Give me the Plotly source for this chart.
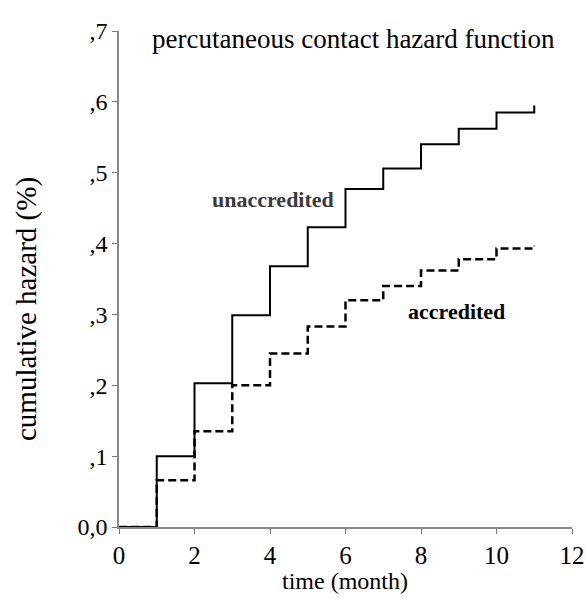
import plotly.graph_objects as go

months = [0, 1, 2, 3, 4, 5, 6, 7, 8, 9, 10, 11]
unaccredited = [0.0, 0.100, 0.203, 0.299, 0.368, 0.423, 0.477, 0.506, 0.540, 0.562, 0.585, 0.595]
accredited = [0.0, 0.066, 0.135, 0.200, 0.245, 0.283, 0.320, 0.340, 0.362, 0.378, 0.393, 0.397]
x_ticks = [0, 2, 4, 6, 8, 10, 12]
y_ticks = [0.0, 0.1, 0.2, 0.3, 0.4, 0.5, 0.6, 0.7]
y_tick_labels = ["0,0", ",1", ",2", ",3", ",4", ",5", ",6", ",7"]

SERIF = "Liberation Serif, Times New Roman, serif"

# plot area target: x 119..572, y 31..527 (page margin removed by post_script)
W, H = 585, 599
L, R, T, B = 119, 585 - 572, 31, 599 - 527
PW, PH = 572 - 119, 527 - 31

def px(x):
    return (x - 119) / PW

def py(y):
    return (527 - y) / PH

fig = go.Figure()
fig.add_trace(go.Scatter(x=months, y=unaccredited, mode="lines", line_shape="hv",
                         line=dict(color="black", width=2), name="unaccredited"))
fig.add_trace(go.Scatter(x=months, y=accredited, mode="lines", line_shape="hv",
                         line=dict(color="black", width=2.5, dash="8px,4px"), name="accredited"))

fig.update_layout(
    width=W, height=H,
    margin=dict(l=L, r=R, t=T, b=B, pad=0, autoexpand=False),
    paper_bgcolor="white", plot_bgcolor="white",
    showlegend=False,
    font=dict(family=SERIF, color="black", size=22),
    xaxis=dict(range=[0, 12], tickvals=x_ticks, ticks="outside", ticklen=5,
               tickcolor="#777", linecolor="#888", linewidth=1.5, showline=True,
               showgrid=False, zeroline=False, tickfont=dict(size=25), automargin=False),
    yaxis=dict(range=[0, 0.7], tickvals=y_ticks, ticktext=y_tick_labels,
               ticks="outside", ticklen=5, tickcolor="#777", linecolor="#888",
               linewidth=1.5, showline=True, showgrid=False, zeroline=False,
               tickfont=dict(size=24), automargin=False),
)

fig.add_annotation(text="percutaneous contact hazard function", xref="paper", yref="paper",
                   x=px(353), y=py(39), showarrow=False,
                   font=dict(size=27, family=SERIF), xanchor="center", yanchor="middle")
fig.add_annotation(text="time (month)", xref="paper", yref="paper",
                   x=px(345), y=py(581), showarrow=False,
                   font=dict(size=24, family=SERIF), xanchor="center", yanchor="middle")
fig.add_annotation(text="cumulative hazard (%)", xref="paper", yref="paper",
                   x=px(26), y=py(309), showarrow=False, textangle=-90,
                   font=dict(size=29, family=SERIF), xanchor="center", yanchor="middle")
fig.add_annotation(text="<b>unaccredited</b>", xref="paper", yref="paper",
                   x=px(273), y=py(199), showarrow=False,
                   font=dict(size=22, family=SERIF, color="#3a3a3a"), xanchor="center", yanchor="middle")
fig.add_annotation(text="<b>accredited</b>", xref="paper", yref="paper",
                   x=px(456), y=py(311), showarrow=False,
                   font=dict(size=22, family=SERIF, color="black"), xanchor="center", yanchor="middle")

fig.write_html("out.html", config={"displayModeBar": False},
               post_script="document.body.style.margin='0';document.body.style.overflow='hidden';")
